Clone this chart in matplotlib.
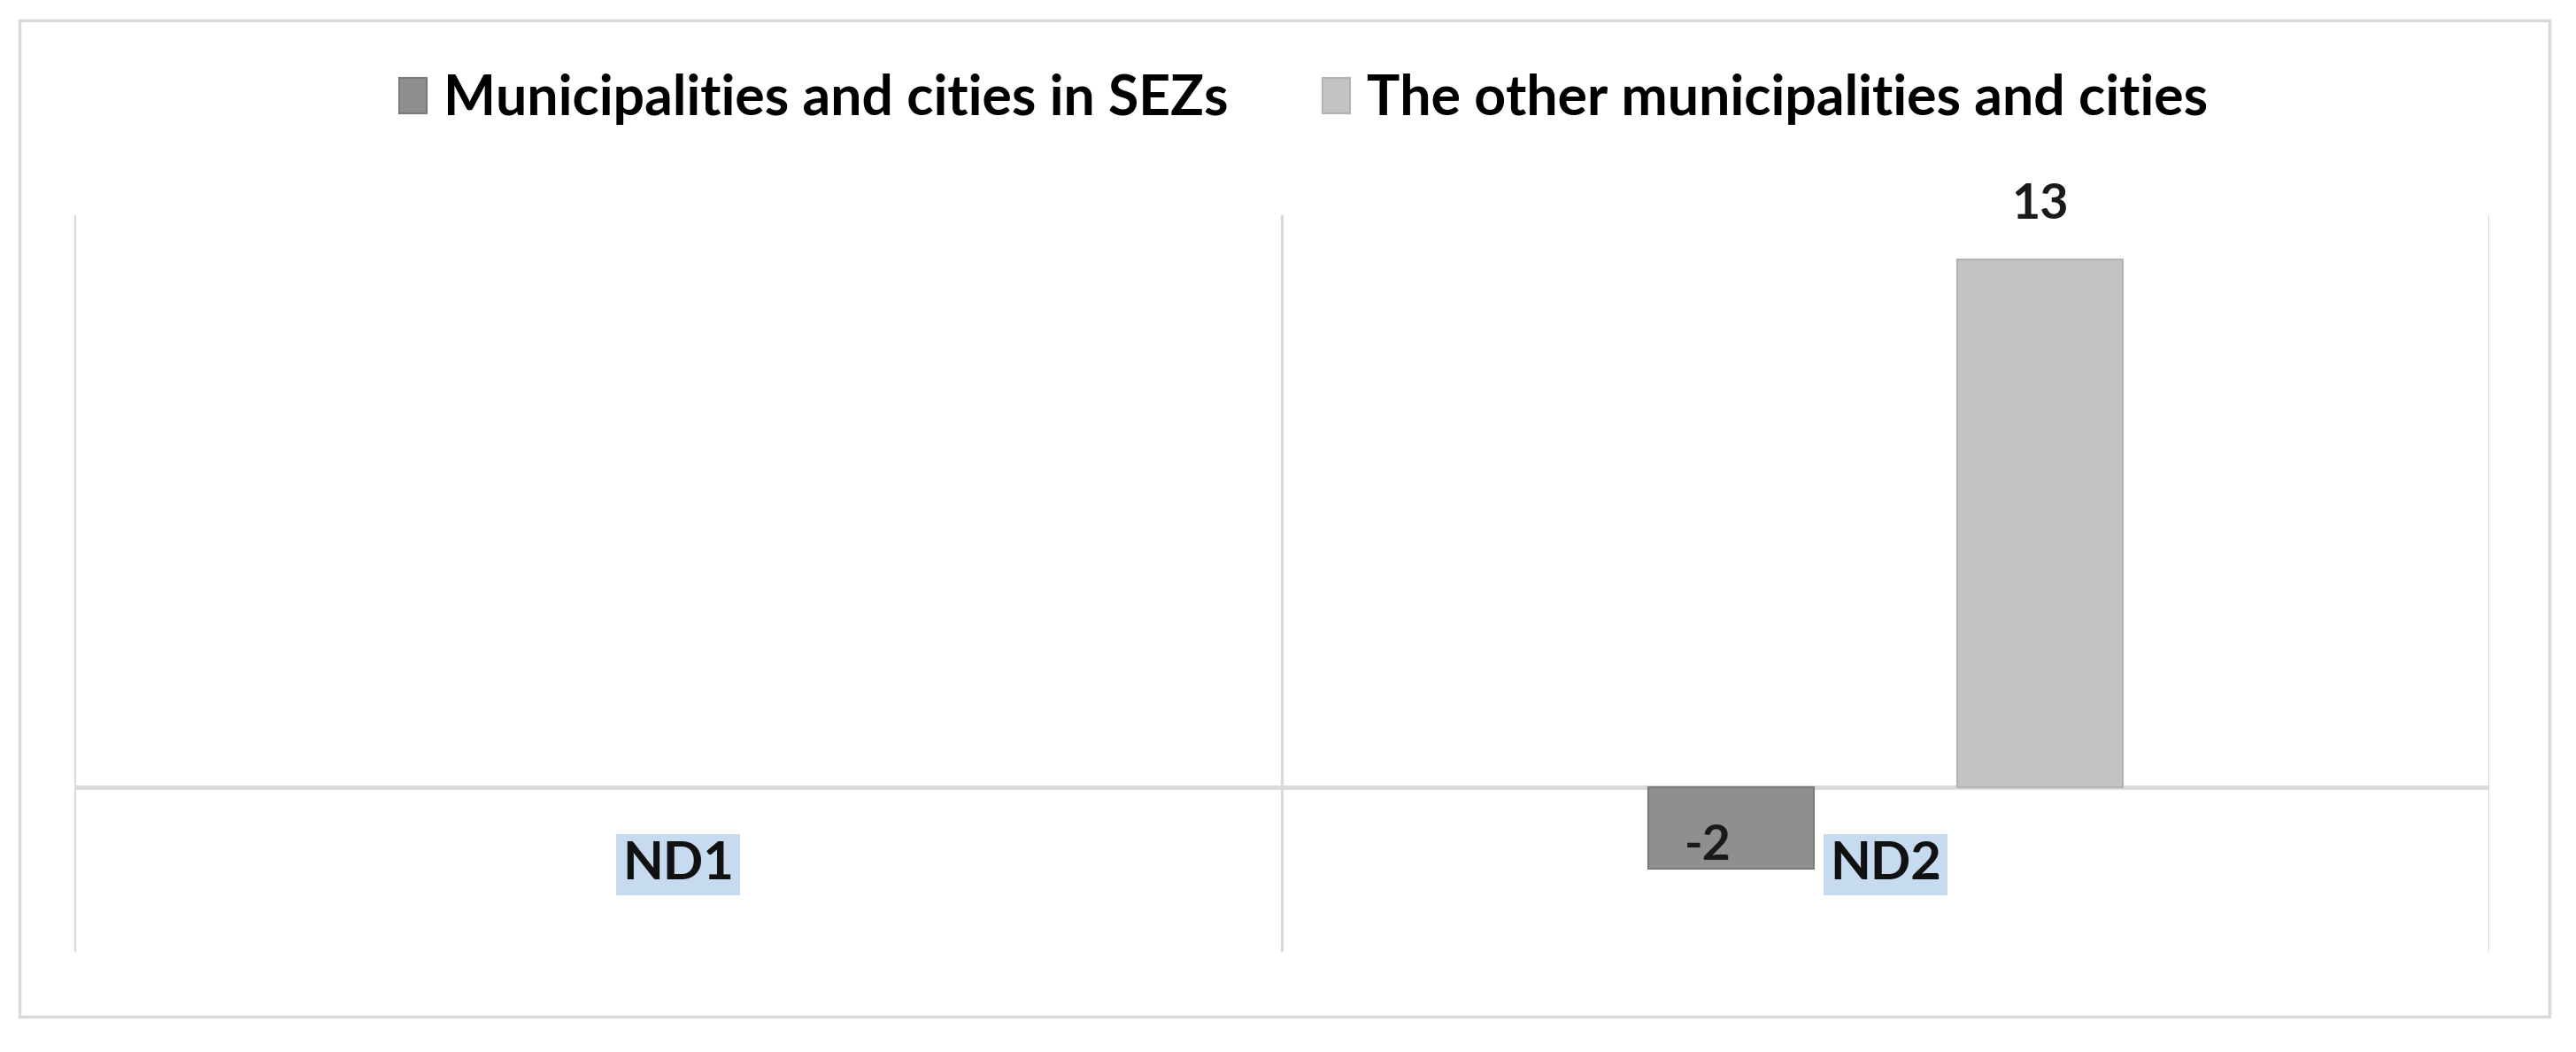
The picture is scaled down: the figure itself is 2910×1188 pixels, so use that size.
import numpy as np
import matplotlib
matplotlib.use("Agg")
import matplotlib.pyplot as plt
from matplotlib.patches import Rectangle

categories = ["ND1", "ND2"]
series_names = ["Municipalities and cities in SEZs", "The other municipalities and cities"]
sez_values = [np.nan, -2]
other_values = [np.nan, 13]

plt.rcParams['font.family'] = ['Lato', 'DejaVu Sans']

W, H = 2910, 1188
fig = plt.figure(figsize=(W / 100, H / 100), dpi=100)
fig.patch.set_facecolor("white")

# outer frame
fig.patches.append(Rectangle((22 / W, 1 - 1148 / H), 2858 / W, 1125 / H,
                             transform=fig.transFigure, fill=False,
                             edgecolor="#d9d9d9", lw=2.5, zorder=0))

ax = fig.add_axes([84 / W, 1 - 1075 / H, (2812 - 84) / W, (1075 - 243) / H])
ax.set_xlim(-0.5, len(categories) - 0.5)
ax.set_ylim(-4.05, 14.1)
for s in ax.spines.values():
    s.set_visible(False)
ax.set_xticks([])
ax.set_yticks([])

x = np.arange(len(categories))
bw = 0.137
off = 0.128
colors = ["#8f8f8f", "#c3c3c3"]
edges = ["#7a7a7a", "#b3b3b3"]

b1 = ax.bar(x - off, sez_values, bw, color=colors[0], edgecolor=edges[0], lw=1.5,
            label=series_names[0], zorder=3)
b2 = ax.bar(x + off, other_values, bw, color=colors[1], edgecolor=edges[1], lw=1.5,
            label=series_names[1], zorder=3)

# category separators and zero line
for b in np.arange(len(categories) + 1) - 0.5:
    ax.axvline(b, color="#d9d9d9", lw=2.2, zorder=1)
ax.axhline(0, color="#d9d9d9", lw=3.5, zorder=2)

# value labels
for xi, v in zip(x, sez_values):
    if not np.isnan(v):
        ax.annotate(f"{v:g}", (xi - off, v), xytext=(-19, 19), textcoords="offset points",
                    ha="center", va="center", fontsize=40, fontweight="bold", color="#1a1a1a",
                    zorder=5)
for xi, v in zip(x, other_values):
    if not np.isnan(v):
        ax.annotate(f"{v:g}", (xi + off, v), xytext=(0, 45), textcoords="offset points",
                    ha="center", va="center", fontsize=40, fontweight="bold", color="#1a1a1a",
                    zorder=5)

# category labels
for xi, c in zip(x, categories):
    ax.text(xi, -1.9, c, ha="center", va="center", fontsize=43, fontweight="bold",
            color="#111111", zorder=5,
            bbox=dict(boxstyle="square,pad=0.12", facecolor="#c6dbf0", edgecolor="none"))

leg = fig.legend(handles=[b1, b2], labels=series_names, loc="center",
                 bbox_to_anchor=(0.506, 1 - 112 / H), ncol=2, frameon=False,
                 prop=dict(weight="bold", size=45),
                 handlelength=0.5, handleheight=0.6, handletextpad=0.3, columnspacing=1.7)

fig.savefig("out.png", dpi=100, facecolor="white")
